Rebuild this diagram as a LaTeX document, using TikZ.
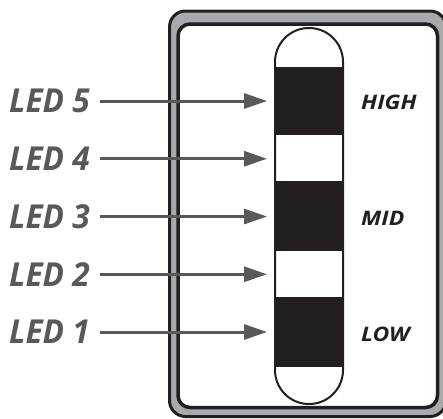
\documentclass[tikz,border=0pt]{standalone}
\usepackage{fontspec}
\usepackage{xcolor}
\usepackage{tikz}
\usetikzlibrary{positioning,arrows.meta}
\newfontfamily\ledfont[FakeStretch=0.96]{Open Sans}
\newfontfamily\levelfont[FakeStretch=1.15]{Open Sans}
\definecolor{FrameGray}{HTML}{A7A9AC}
\definecolor{InkBlack}{HTML}{231F20}
\definecolor{ArrowGray}{HTML}{58595B}

\tikzset{
  ledband/.style={minimum width=68pt, inner sep=0pt, outer sep=0pt},
  ledon/.style={ledband, fill=InkBlack},
  ledoff/.style={ledband, fill=white},
  ledname/.style={text=ArrowGray, inner sep=0pt, anchor=east,
    font=\ledfont\fontsize{33}{34}\selectfont\bfseries\itshape},
  levelname/.style={text=InkBlack, inner sep=0pt, anchor=west,
    font=\levelfont\fontsize{20}{21}\selectfont\bfseries\itshape},
  ledarrow/.style={ArrowGray, line width=3pt,
    -{Triangle[length=23pt,width=15pt]}, shorten <=10pt, shorten >=8pt}
}

\begin{document}
\begin{tikzpicture}[x=1pt, y=-1pt]
  \useasboundingbox (0,0) rectangle (443,418);

  % housing
  \draw[InkBlack, line width=3pt, fill=FrameGray, rounded corners=16pt]
    (169.5,11) rectangle (446,416.5);
  \draw[InkBlack, line width=3.5pt, fill=white, rounded corners=12pt]
    (178,24) rectangle (437.5,407.5);

  % bar graph
  \node[ledon, minimum height=68pt, anchor=north] (led5) at (309,67) {};
  \node[ledoff, minimum height=46pt, below=0pt of led5] (led4) {};
  \node[ledon, minimum height=70pt, below=0pt of led4] (led3) {};
  \node[ledoff, minimum height=46pt, below=0pt of led3] (led2) {};
  \node[ledon, minimum height=70pt, below=0pt of led2] (led1) {};
  \draw[InkBlack, line width=2pt, rounded corners=33.9pt]
    (275,28) rectangle (343,404);

  % labels
  \foreach \i in {1,...,5}{
    \node[ledname] (name\i) at (90,{101+(5-\i)*57.75}) {LED \i};
    \draw[ledarrow] (name\i.east) -- (led\i.west |- name\i.east);
  }
  \node[levelname] (high) at (361,102) {HIGH};
  \node[levelname] (mid) at (361,218) {MID};
  \node[levelname] (low) at (361,334) {LOW};
\end{tikzpicture}
\end{document}
